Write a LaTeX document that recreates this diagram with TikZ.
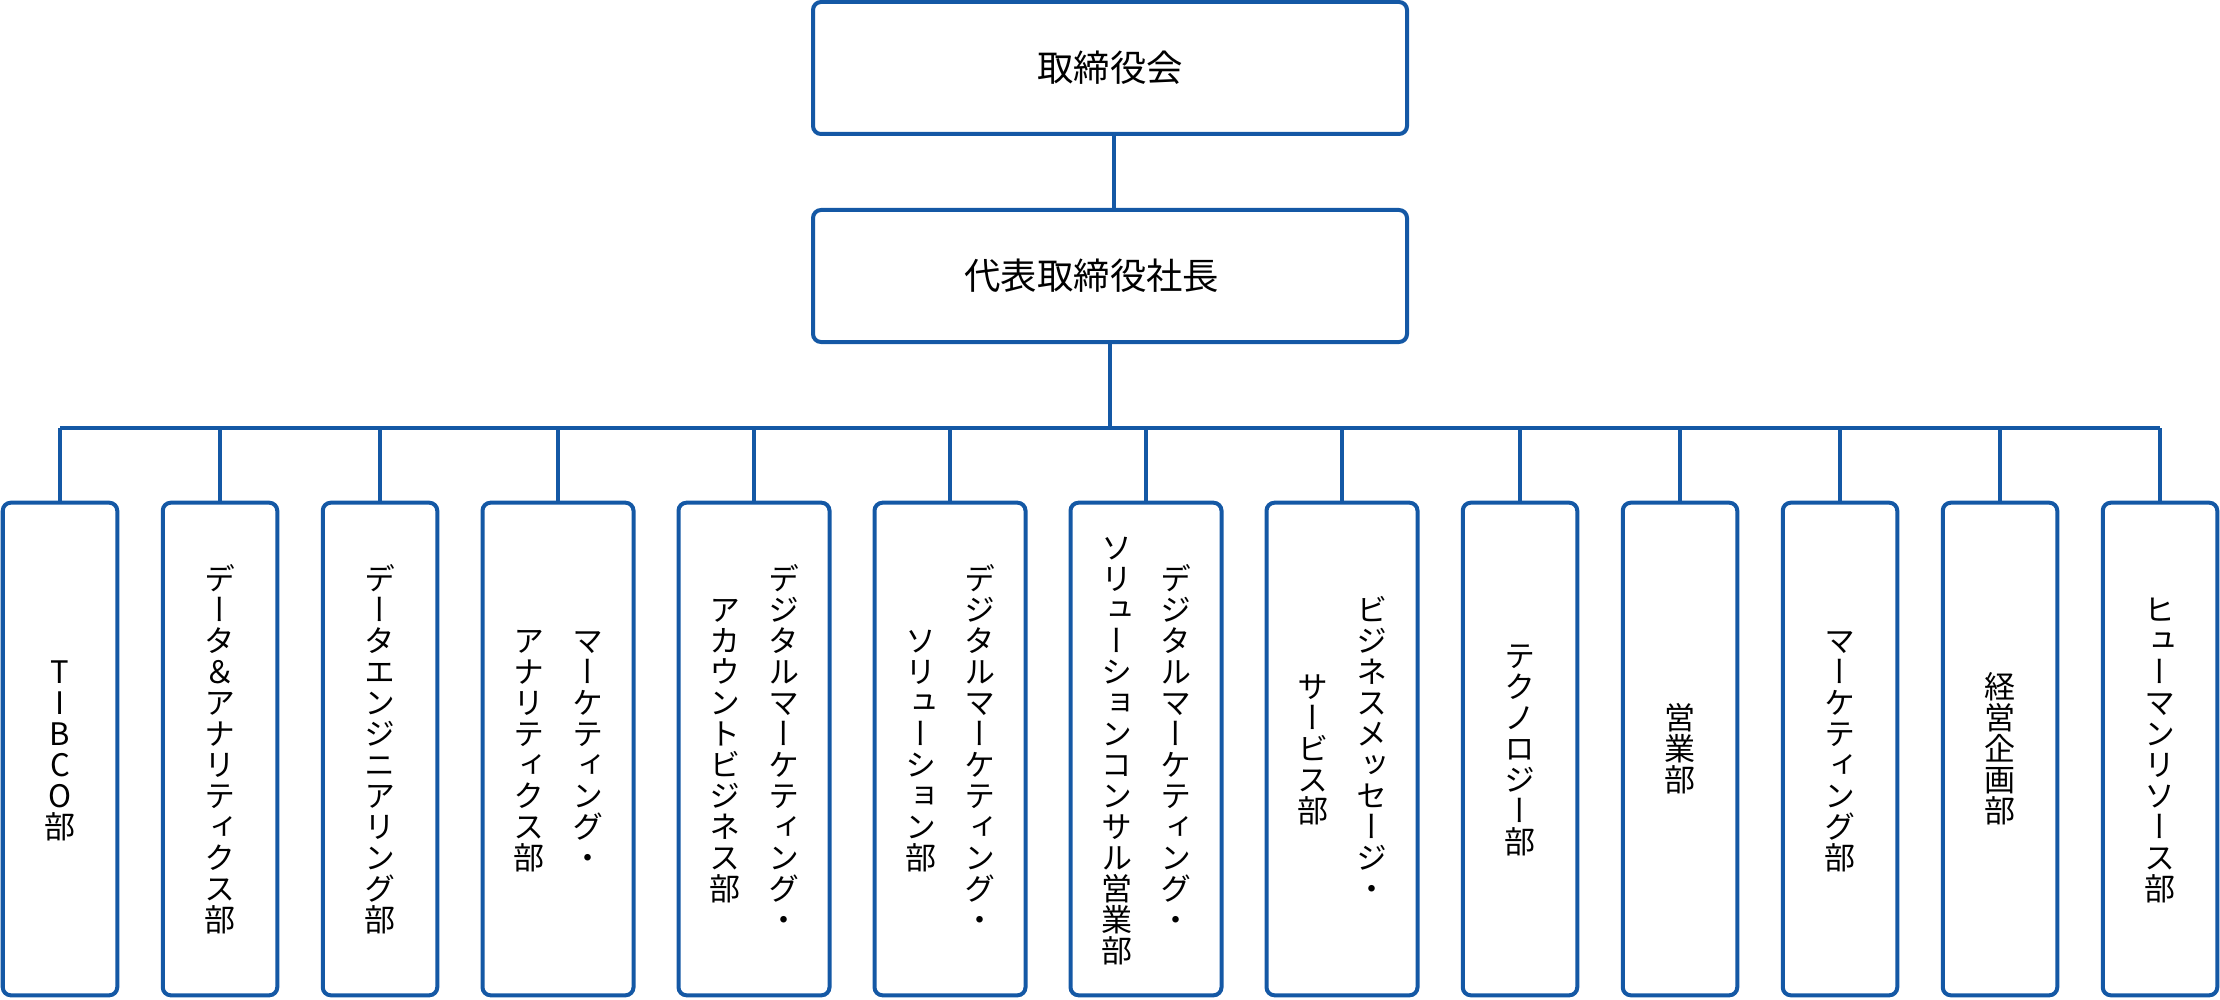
\documentclass[tikz,border=0pt]{standalone}
\usepackage{fontspec}
\newfontfamily\jp{Noto Sans CJK JP}
\newfontfamily\jpv[RawFeature=+vert]{Noto Sans CJK JP}
\definecolor{bblue}{RGB}{20,88,165}
\makeatletter
\newcommand\vcolumn[1]{\vbox{\baselineskip=1em\lineskiplimit=-1000pt\lineskip=0pt\@tfor\vch:=#1\do{\hbox to 1em{\vrule height .88em depth .12em width 0pt\hss\vch\hss}}}}
\makeatother
\newcommand\onecol[1]{$\vcenter{\vcolumn{#1}}$}
\newcommand\twocol[2]{$\vcenter{\vcolumn{#1}}\hskip14pt\vcenter{\vcolumn{#2}}$}
\tikzset{
  box/.style={draw=bblue, line width=2pt, rounded corners=4pt, inner sep=0pt, fill=white},
  topbox/.style={box, minimum width=297pt, minimum height=66pt, font=\jp\fontsize{18.2}{18.2}\selectfont},
  narrowbox/.style={box, minimum width=57.25pt, minimum height=246.3pt, font=\jpv\fontsize{15.5}{15.5}\selectfont},
  widebox/.style={narrowbox, minimum width=75.5pt},
  conn/.style={draw=bblue, line width=1.7pt},
}
\begin{document}
\begin{tikzpicture}[x=0.5pt,y=-0.5pt]
\useasboundingbox (0,0) rectangle (2220,1000);
\coordinate (bus) at (1110,428);
\node[topbox] (board) at (1110,68) {取締役会};
\node[topbox] (pres) at (1110,276) {代表取締役社長\hspace*{1em}};
% departments
\node[narrowbox] (d1) at (60,749) {\onecol{TIBCO部}};
\node[narrowbox] (d2) at (220,749) {\onecol{データ＆アナリティクス部}};
\node[narrowbox] (d3) at (380,749) {\onecol{データエンジニアリング部}};
\node[widebox] (d4) at (558,749) {\twocol{アナリティクス部}{マーケティング・}};
\node[widebox] (d5) at (754,749) {\twocol{アカウントビジネス部}{デジタルマーケティング・}};
\node[widebox] (d6) at (950,749) {\twocol{ソリューション部}{デジタルマーケティング・}};
\node[widebox] (d7) at (1146,749) {\twocol{ソリューションコンサル営業部}{デジタルマーケティング・}};
\node[widebox] (d8) at (1342,749) {\twocol{サービス部}{ビジネスメッセージ・}};
\node[narrowbox] (d9) at (1520,749) {\onecol{テクノロジー部}};
\node[narrowbox] (d10) at (1680,749) {\onecol{営業部}};
\node[narrowbox] (d11) at (1840,749) {\onecol{マーケティング部}};
\node[narrowbox] (d12) at (2000,749) {\onecol{経営企画部}};
\node[narrowbox] (d13) at (2160,749) {\onecol{ヒューマンリソース部}};
% connectors
\draw[conn, line width=1.85pt] ([xshift=2pt]board.south) -- ([xshift=2pt]pres.north);
\draw[conn] (pres.south) -- (pres.south |- bus);
\draw[conn] (d1.north |- bus) -- (d13.north |- bus);
\foreach \k in {1,...,13}
  \draw[conn] (d\k.north) -- (d\k.north |- bus);
\end{tikzpicture}
\end{document}
